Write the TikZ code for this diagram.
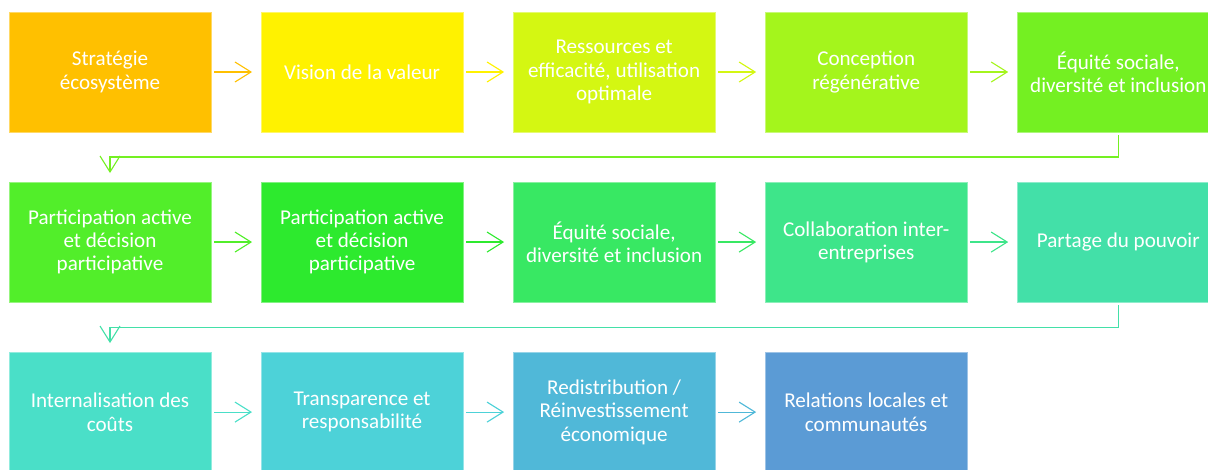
\documentclass[tikz,border=0pt]{standalone}
\usepackage{fontspec}
\setmainfont{Carlito}
\usetikzlibrary{arrows.meta,positioning}
\definecolor{stepA}{HTML}{FFC000}
\definecolor{stepB}{HTML}{FFF200}
\definecolor{stepC}{HTML}{D4F712}
\definecolor{stepD}{HTML}{A4F51C}
\definecolor{stepE}{HTML}{74F022}
\definecolor{stepF}{HTML}{52EE2A}
\definecolor{stepG}{HTML}{2DEA2E}
\definecolor{stepH}{HTML}{38E863}
\definecolor{stepI}{HTML}{3EE58A}
\definecolor{stepJ}{HTML}{43E0A8}
\definecolor{stepK}{HTML}{4ADFC8}
\definecolor{stepL}{HTML}{4DD2D8}
\definecolor{stepM}{HTML}{50B8D8}
\definecolor{stepN}{HTML}{5B9BD5}
\tikzset{
    flowbox/.style={fill=#1, draw=#1!60!white, line width=0.4pt, outer sep=0pt, minimum width=5.05cm, minimum height=3cm, inner sep=0pt, align=center, text=white, font=\fontsize{15}{16.6}\selectfont},
    flowarrow/.style={draw=#1, line width=0.8pt, -{Straight Barb[length=0.4cm,width=0.5cm]}, shorten <=0.075cm, shorten >=0.225cm}
}

\begin{document}
\begin{tikzpicture}[x=0.025cm, y=-0.025cm, node distance=1.25cm and 1.25cm]
    \useasboundingbox (0,0) rectangle (1208,469);
    % first row
    \node[flowbox=stepA] (strategie) at (110,72) {Stratégie\\écosystème};
    \node[flowbox=stepB, right=of strategie] (vision) {Vision de la valeur};
    \node[flowbox=stepC, right=of vision] (ressources) {Ressources et\\efficacité, utilisation\\optimale};
    \node[flowbox=stepD, right=of ressources] (conception) {Conception\\régénérative};
    \node[flowbox=stepE, right=of conception] (equiteA) {Équité sociale,\\diversité et inclusion};
    % second row
    \node[flowbox=stepF, below=of strategie] (participA) {Participation active\\et décision\\participative};
    \node[flowbox=stepG, right=of participA] (participB) {Participation active\\et décision\\participative};
    \node[flowbox=stepH, right=of participB] (equiteB) {Équité sociale,\\diversité et inclusion};
    \node[flowbox=stepI, right=of equiteB] (collab) {Collaboration inter-\\entreprises};
    \node[flowbox=stepJ, right=of collab] (partage) {Partage du pouvoir};
    % third row
    \node[flowbox=stepK, below=of participA] (couts) {Internalisation des\\coûts};
    \node[flowbox=stepL, right=of couts] (transp) {Transparence et\\responsabilité};
    \node[flowbox=stepM, right=of transp] (redistrib) {Redistribution /\\Réinvestissement\\économique};
    \node[flowbox=stepN, right=of redistrib] (relations) {Relations locales et\\communautés};
    \draw[flowarrow=stepA] (strategie) -- (vision);
    \draw[flowarrow=stepB] (vision) -- (ressources);
    \draw[flowarrow=stepC] (ressources) -- (conception);
    \draw[flowarrow=stepD] (conception) -- (equiteA);
    \draw[flowarrow=stepE] (equiteA.south) -- ++(0,25) -| (participA.north);
    \draw[flowarrow=stepF] (participA) -- (participB);
    \draw[flowarrow=stepG] (participB) -- (equiteB);
    \draw[flowarrow=stepH] (equiteB) -- (collab);
    \draw[flowarrow=stepI] (collab) -- (partage);
    \draw[flowarrow=stepJ] (partage.south) -- ++(0,25) -| (couts.north);
    \draw[flowarrow=stepK] (couts) -- (transp);
    \draw[flowarrow=stepL] (transp) -- (redistrib);
    \draw[flowarrow=stepM] (redistrib) -- (relations);
\end{tikzpicture}
\end{document}
